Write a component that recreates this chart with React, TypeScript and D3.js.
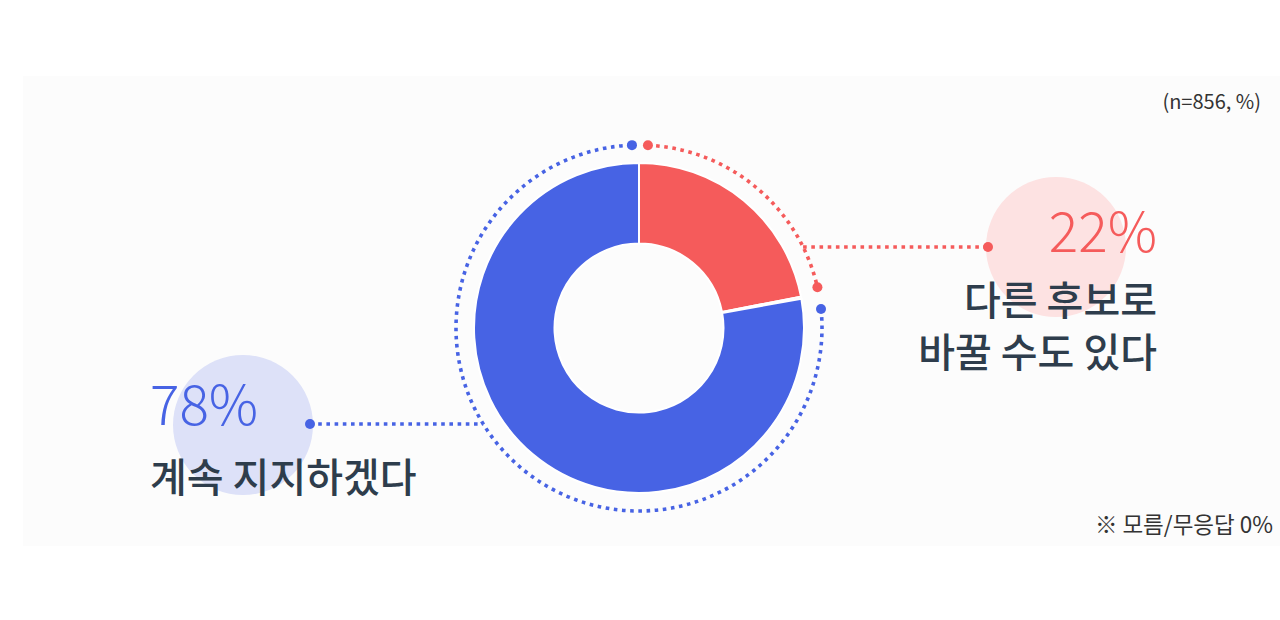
import React from "react";
import * as d3 from "d3";

const categories = ["다른 후보로 바꿀 수도 있다", "모름/무응답", "계속 지지하겠다"];
const shares = [22, 0.2, 78];
const labelPercents = [22, 0, 78];
const redLabelLines = ["다른 후보로", "바꿀 수도 있다"];
const blueLabel = "계속 지지하겠다";
const colors = ["#f55b5b", "#d9d9d9", "#4763e4"];
const softColors = ["#fde2e2", "#eeeeee", "#dde1f8"];
const sampleNote = "(n=856, %)";
const footNote = "※ 모름/무응답 0%";

const W = 1280;
const H = 620;
const cx = 639;
const cy = 328;
const rOuter = 165;
const rInner = 84.5;
const rDot = 183;
const FONT = "'Noto Sans CJK KR', 'Noto Sans', sans-serif";
const DARK = "#2e3d4c";

function arcLine(r: number, a0: number, a1: number) {
  const p = d3.path();
  p.arc(0, 0, r, a0 - Math.PI / 2, a1 - Math.PI / 2, false);
  return p.toString();
}

export default function App() {
  const pie = d3.pie<number>().sort(null).value((d) => d);
  const arcs = pie(shares);
  const arcGen = d3.arc<d3.PieArcDatum<number>>().innerRadius(rInner).outerRadius(rOuter);
  const deg = Math.PI / 180;

  const red = arcs[0];
  const blue = arcs[2];
  const redStart = red.startAngle + 2.8 * deg;
  const redEnd = red.endAngle - 1.9 * deg;
  const blueStart = blue.startAngle + 4.3 * deg;
  const blueEnd = blue.endAngle - 2.2 * deg;
  const pt = (a: number) => [cx + rDot * Math.sin(a), cy - rDot * Math.cos(a)];

  const redY = 247;
  const redLeaderX0 = cx + Math.sqrt(rDot * rDot - (cy - redY) ** 2);
  const redDotX = 988;
  const blueY = 424;
  const blueLeaderX1 = cx - Math.sqrt(rDot * rDot - (blueY - cy) ** 2);
  const blueDotX = 310;

  const dash = "3.6 4.6";
  const sw = 3.6;

  return (
    <svg width={W} height={H} style={{ position: "absolute", left: 0, top: 0 }} fontFamily={FONT}>
      <rect x={0} y={0} width={W} height={H} fill="#ffffff" />
      <rect x={23} y={76} width={W - 23} height={470} fill="#fcfcfc" />

      {/* background circles */}
      <circle cx={1056} cy={247} r={70} fill={softColors[0]} />
      <circle cx={243} cy={425} r={70} fill={softColors[2]} />

      {/* donut */}
      <g transform={`translate(${cx},${cy})`}>
        {arcs.map((a, i) => (
          <path key={i} d={arcGen(a) || ""} fill={colors[i]} stroke="#ffffff" strokeWidth={2} />
        ))}
      </g>

      {/* dotted arcs */}
      <g transform={`translate(${cx},${cy})`}>
        <path
          d={arcLine(rDot, redStart, redEnd)}
          fill="none"
          stroke={colors[0]}
          strokeWidth={sw}
          strokeDasharray={dash}
        />
        <path
          d={arcLine(rDot, blueStart, blueEnd)}
          fill="none"
          stroke={colors[2]}
          strokeWidth={sw}
          strokeDasharray={dash}
        />
      </g>
      <circle cx={pt(redStart)[0]} cy={pt(redStart)[1]} r={5} fill={colors[0]} />
      <circle cx={pt(redEnd)[0]} cy={pt(redEnd)[1]} r={5} fill={colors[0]} />
      <circle cx={pt(blueStart)[0]} cy={pt(blueStart)[1]} r={5} fill={colors[2]} />
      <circle cx={pt(blueEnd)[0]} cy={pt(blueEnd)[1]} r={5} fill={colors[2]} />

      {/* leaders */}
      <line x1={redLeaderX0} y1={redY} x2={redDotX} y2={redY} stroke={colors[0]} strokeWidth={sw} strokeDasharray={dash} />
      <circle cx={redDotX} cy={redY} r={5} fill={colors[0]} />
      <line x1={blueDotX} y1={blueY} x2={blueLeaderX1} y2={blueY} stroke={colors[2]} strokeWidth={sw} strokeDasharray={dash} />
      <circle cx={blueDotX} cy={blueY} r={5} fill={colors[2]} />

      {/* red labels */}
      <text x={1157} y={252} textAnchor="end" fontSize={55} fontWeight={300} fill={colors[0]}>
        {labelPercents[0]}%
      </text>
      <text x={1157} y={315} textAnchor="end" fontSize={40} fontWeight={500} fill={DARK}>
        {redLabelLines.map((l, i) => (
          <tspan key={i} x={1157} dy={i === 0 ? 0 : 52}>
            {l}
          </tspan>
        ))}
      </text>

      {/* blue labels */}
      <text x={150} y={425} textAnchor="start" fontSize={55} fontWeight={300} fill={colors[2]}>
        {labelPercents[2]}%
      </text>
      <text x={150} y={492} textAnchor="start" fontSize={40} fontWeight={500} fill={DARK}>
        {blueLabel}
      </text>

      <text x={1261} y={109} textAnchor="end" fontSize={20} fontWeight={400} fill="#333333">
        {sampleNote}
      </text>
      <text x={1273} y={533} textAnchor="end" fontSize={22.5} fontWeight={400} fill="#333333">
        {footNote}
      </text>
    </svg>
  );
}
